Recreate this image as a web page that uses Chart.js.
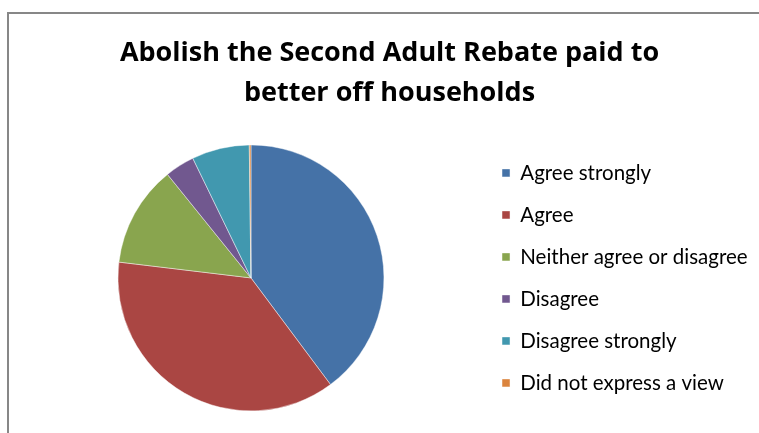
<!DOCTYPE html>
<html>
<head>
<meta charset="utf-8">
<title>Second Adult Rebate</title>
<script src="https://cdn.jsdelivr.net/npm/chart.js@4.4.1/dist/chart.umd.min.js"></script>
<style>
    html, body { margin: 0; padding: 0; background: #fff; overflow: hidden; }
    .cadre { position: absolute; left: 7px; top: 12px; width: 800px; height: 460px; border: 2px solid #878787; }
    #rebate-chart { position: absolute; left: 0; top: 0; }
</style>
</head>
<body>
<div class="cadre"></div>
<canvas id="rebate-chart" width="759" height="433"></canvas>
<script>
// Réponses (en %)
const labels = ['Agree strongly', 'Agree', 'Neither agree or disagree', 'Disagree', 'Disagree strongly', 'Did not express a view'];
const values = [39.8, 37.1, 12.3, 3.6, 7.0, 0.2];
const colors = ['#4572A7', '#AA4643', '#89A54E', '#71588F', '#4198AF', '#DB843D'];
const titleLines = ['Abolish the Second Adult Rebate paid to', 'better off households'];

document.addEventListener('DOMContentLoaded', function() {
    const ctx = document.getElementById('rebate-chart');
    new Chart(ctx, {
        type: 'pie',
        data: {
            labels: labels,
            datasets: [{
                data: values,
                backgroundColor: colors,
                borderColor: 'rgba(255, 255, 255, 0.6)',
                borderWidth: 0.75,
                radius: 133
            }]
        },
        options: {
            responsive: false,
            animation: false,
            devicePixelRatio: 1,
            layout: {
                padding: { left: 21.4, right: 1.4, top: 0, bottom: 0 }
            },
            plugins: {
                title: {
                    display: true,
                    text: titleLines,
                    color: '#000',
                    font: { family: '"Open Sans"', size: 27, weight: 'bold', lineHeight: 1.46 },
                    padding: { top: 34, bottom: 10 }
                },
                legend: {
                    position: 'right',
                    fullSize: false,
                    labels: {
                        color: '#000',
                        font: { family: 'Lato', size: 20.5 },
                        boxWidth: 8,
                        boxHeight: 8,
                        padding: 21.5
                    }
                },
                tooltip: { enabled: false }
            }
        }
    });
});
</script>
</body>
</html>
